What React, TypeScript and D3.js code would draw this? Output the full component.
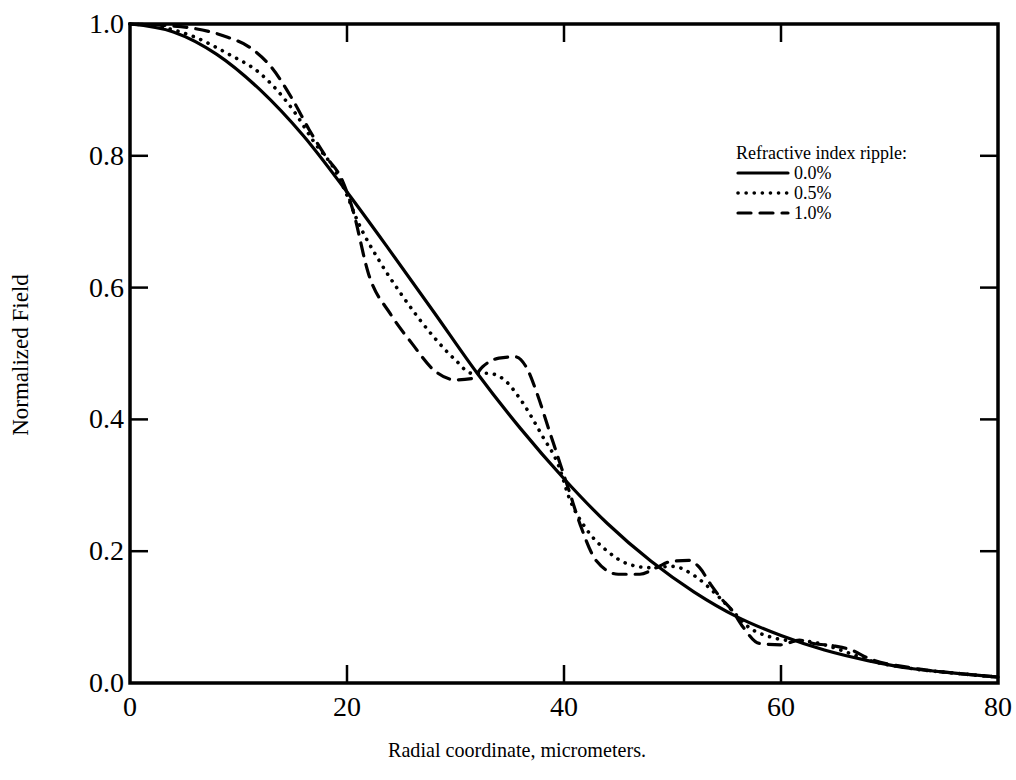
import React from "react";
import * as d3 from "d3";

const xTicks = [0, 20, 40, 60, 80];
const yTicks = [0.0, 0.2, 0.4, 0.6, 0.8, 1.0];
const xTitle = "Radial coordinate, micrometers.";
const yTitle = "Normalized Field";
const legendTitle = "Refractive index ripple:";
const seriesNames = ["0.0%", "0.5%", "1.0%"];

const solidX = [0, 4, 8, 12, 16, 20, 24, 28, 32, 36, 40, 44, 48, 52, 56, 60, 64, 68, 72, 76, 80];
const solidY = [1.0, 0.988, 0.954, 0.9, 0.83, 0.745, 0.655, 0.563, 0.47, 0.386, 0.31, 0.242, 0.185, 0.138, 0.1, 0.072, 0.05, 0.034, 0.022, 0.015, 0.009];

const dottedX = [0, 3, 6, 9, 12, 15, 17, 19, 20, 21, 23, 25, 28, 30, 31.5, 33, 34.5, 36, 38, 39.5, 40.5, 42, 44, 46, 48, 50, 52, 54, 55.5, 57, 59, 61, 62.5, 64, 66, 68, 72, 76, 80];
const dottedY = [1.0, 0.995, 0.98, 0.955, 0.925, 0.87, 0.82, 0.775, 0.74, 0.7, 0.64, 0.59, 0.525, 0.49, 0.47, 0.47, 0.46, 0.43, 0.375, 0.33, 0.28, 0.235, 0.2, 0.18, 0.175, 0.177, 0.163, 0.135, 0.11, 0.085, 0.07, 0.064, 0.063, 0.058, 0.047, 0.035, 0.022, 0.015, 0.009];

const dashedX = [0, 3, 6, 9, 11, 13, 15, 16.5, 18, 19.5, 20.5, 22, 24, 26, 28, 30, 31.5, 32.5, 34, 35.5, 36.5, 37.5, 38.5, 39.5, 40.5, 41.5, 43, 45, 47, 48.5, 50, 51.5, 52.5, 53.5, 54.5, 55.5, 56.5, 58, 60, 61.7, 63, 65, 66.5, 68, 72, 76, 80];
const dashedY = [1.0, 0.998, 0.993, 0.98, 0.965, 0.935, 0.885, 0.84, 0.8, 0.765, 0.72, 0.62, 0.56, 0.515, 0.475, 0.46, 0.462, 0.48, 0.493, 0.495, 0.48, 0.44, 0.39, 0.34, 0.29, 0.24, 0.185, 0.165, 0.165, 0.175, 0.185, 0.186, 0.175, 0.15, 0.128, 0.11, 0.085, 0.06, 0.058, 0.065, 0.06, 0.056, 0.05, 0.038, 0.023, 0.015, 0.009];

const W = 1016;
const H = 780;
const left = 130, right = 998, top = 24, bottom = 683;
const FONT = "'Liberation Serif', 'Times New Roman', serif";

export default function App() {
  const x = d3.scaleLinear().domain([0, 80]).range([left, right]);
  const y = d3.scaleLinear().domain([0, 1]).range([bottom, top]);
  const mk = (xs: number[], ys: number[]) =>
    d3.line<number>().x((_, i) => x(xs[i])).y((_, i) => y(ys[i])).curve(d3.curveMonotoneX)(ys) || "";

  const series = [
    { d: mk(solidX, solidY), dash: undefined as string | undefined, cap: "round" as const, w: 3.2 },
    { d: mk(dottedX, dottedY), dash: "0.1 8", cap: "round" as const, w: 3.6 },
    { d: mk(dashedX, dashedY), dash: "13 9", cap: "round" as const, w: 3.2 },
  ];

  const tickLen = 18;
  const lgX = 736, lgY = 153, lgStep = 20;

  return (
    <svg width={W} height={H} style={{ position: "absolute", left: 0, top: 0, background: "#fff" }} fontFamily={FONT}>
      <rect x={0} y={0} width={W} height={H} fill="#fff" />
      {series.map((s, i) => (
        <path key={i} d={s.d} fill="none" stroke="#000" strokeWidth={s.w} strokeDasharray={s.dash} strokeLinecap={s.cap} strokeLinejoin="round" />
      ))}
      <rect x={left} y={top} width={right - left} height={bottom - top} fill="none" stroke="#000" strokeWidth={3.5} />
      {xTicks.filter((t) => t > 0 && t < 80).map((t) => (
        <g key={"xt" + t}>
          <line x1={x(t)} x2={x(t)} y1={bottom} y2={bottom - tickLen} stroke="#000" strokeWidth={2.5} />
          <line x1={x(t)} x2={x(t)} y1={top} y2={top + tickLen} stroke="#000" strokeWidth={2.5} />
        </g>
      ))}
      {xTicks.map((t) => (
        <text key={"xl" + t} x={x(t)} y={bottom + 33} textAnchor="middle" fontSize={28}>
          {t}
        </text>
      ))}
      {yTicks.filter((t) => t > 0 && t < 1).map((t) => (
        <g key={"yt" + t}>
          <line x1={left} x2={left + tickLen} y1={y(t)} y2={y(t)} stroke="#000" strokeWidth={2.5} />
          <line x1={right} x2={right - tickLen} y1={y(t)} y2={y(t)} stroke="#000" strokeWidth={2.5} />
        </g>
      ))}
      {yTicks.map((t) => (
        <text key={"yl" + t} x={left - 6} y={y(t) + 9} textAnchor="end" fontSize={28}>
          {t.toFixed(1)}
        </text>
      ))}
      <text x={517} y={757} textAnchor="middle" fontSize={22} textLength={258} lengthAdjust="spacingAndGlyphs">
        {xTitle}
      </text>
      <text transform={`translate(28,355) rotate(-90)`} textAnchor="middle" fontSize={23}>
        {yTitle}
      </text>
      <text x={lgX} y={lgY + 6} fontSize={18}>
        {legendTitle}
      </text>
      {series.map((s, i) => (
        <g key={"lg" + i}>
          <line x1={lgX + 2} x2={lgX + 52} y1={lgY + lgStep * (i + 1)} y2={lgY + lgStep * (i + 1)} stroke="#000" strokeWidth={s.w} strokeDasharray={s.dash} strokeLinecap={s.cap} />
          <text x={lgX + 58} y={lgY + lgStep * (i + 1) + 6} fontSize={18}>
            {seriesNames[i]}
          </text>
        </g>
      ))}
    </svg>
  );
}
